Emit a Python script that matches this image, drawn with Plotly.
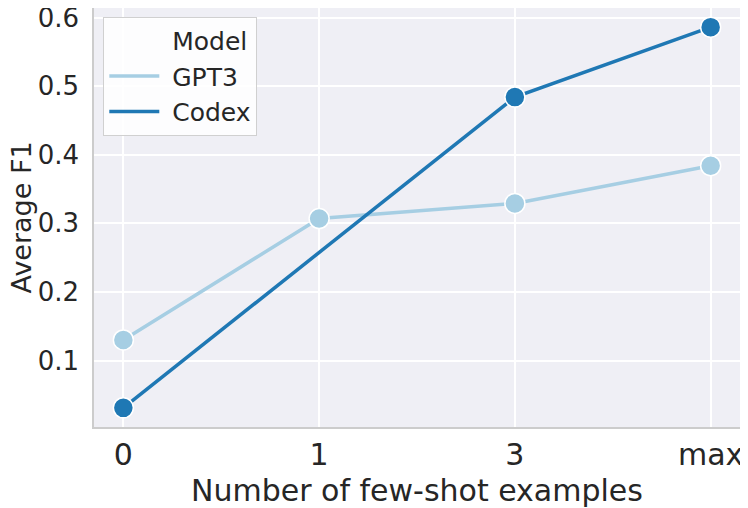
import plotly.graph_objects as go

shots = ["0", "1", "3", "max"]
gpt3_f1 = [0.130, 0.307, 0.329, 0.384]
codex_f1 = [0.031, None, 0.484, 0.586]  # no Codex run at 1 shot
y_ticks = [0.1, 0.2, 0.3, 0.4, 0.5, 0.6]

fig = go.Figure()
# seaborn-style legend header: an entry with no visible line
fig.add_trace(go.Scatter(x=[None], y=[None], name="\u00a0Model", mode="lines",
                         line=dict(color="rgba(0,0,0,0)", width=3.5)))
for name, vals, color in [("GPT3", gpt3_f1, "#a6cee3"), ("Codex", codex_f1, "#1f78b4")]:
    fig.add_trace(go.Scatter(
        x=shots, y=vals, name=name, mode="lines+markers", connectgaps=True,
        line=dict(color=color, width=3.5),
        marker=dict(size=20, color=color, line=dict(color="white", width=1.5)),
        showlegend=False,
    ))
    fig.add_trace(go.Scatter(
        x=[None], y=[None], name="\u00a0" + name, mode="lines",
        line=dict(color=color, width=3.5),
    ))

# the page body adds an 8px offset, so the figure is 8px smaller than the window
fig.update_layout(
    width=740, height=500,
    margin=dict(l=86, r=8, t=0, b=81, autoexpand=False),
    paper_bgcolor="white",
    plot_bgcolor="#efeff5",
    font=dict(family="DejaVu Sans", size=26, color="#262626"),
    showlegend=True,
    legend=dict(
        x=0.0144, y=0.979, xanchor="left", yanchor="top",
        bgcolor="rgba(255,255,255,0.85)", bordercolor="#d0d0d0", borderwidth=1,
        font=dict(size=25), itemwidth=50, tracegroupgap=0,
    ),
    annotations=[
        dict(text="Average F1", textangle=-90, font=dict(size=27),
             xref="paper", yref="paper", x=0, y=0.5, xshift=-73,
             xanchor="center", yanchor="middle", showarrow=False),
        dict(text="Number of few-shot examples", font=dict(size=30),
             xref="paper", yref="paper", x=0.5, y=0, yshift=-63,
             xanchor="center", yanchor="middle", showarrow=False),
    ],
)
fig.update_xaxes(
    type="category", range=[-0.15, 3.15],
    tickfont=dict(size=30),
    showgrid=True, gridcolor="white", gridwidth=1.5,
    showline=True, linecolor="#cccccc", linewidth=1.5, mirror=True,
    ticks="", ticklen=0, ticklabelstandoff=0, zeroline=False, automargin=False,
    ticklabeloverflow="allow",
)
fig.update_yaxes(
    range=[0.0031, 0.6139], tickvals=y_ticks, ticktext=[str(v) for v in y_ticks],
    tickfont=dict(size=26),
    showgrid=True, gridcolor="white", gridwidth=1.5,
    showline=True, linecolor="#cccccc", linewidth=1.5, mirror=True,
    ticks="", ticklen=0, ticklabelstandoff=8, zeroline=False, automargin=False,
    ticklabeloverflow="allow",
)

fig.write_html("out.html")
